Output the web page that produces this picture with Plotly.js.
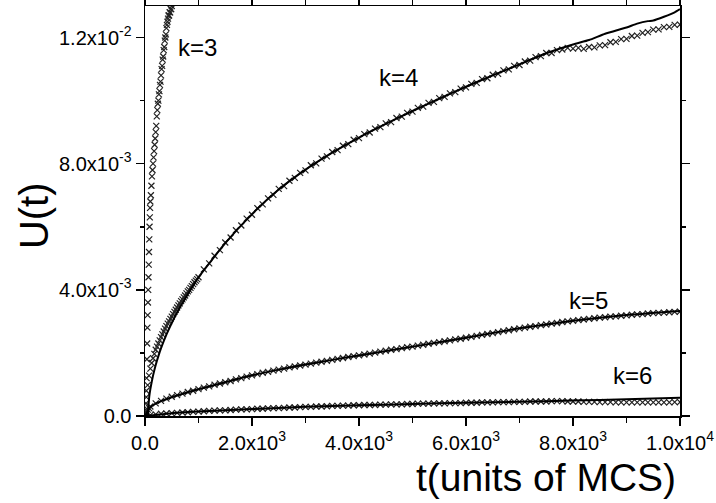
<!DOCTYPE html>
<html>
<head>
<meta charset="utf-8">
<script src="https://cdn.plot.ly/plotly-3.0.1.min.js"></script>
<style>html,body{margin:0;padding:0;background:#fff;}#chart{width:716px;height:503px;}</style>
</head>
<body>
<div id="chart"></div>
<script>
// ---- data (t in MCS, U(t)) ----
const tK3 = [0,5,10,15,20,25,30,35,40,45,50,55,60,65,70,75,80,85,90,95,100,110,120,130,140,150,160,170,180,190,200,210,220,230,240,250,260,270,280,290,300,310,320,330,340,350,360,370,380,390,400,410,420,430,440,450,460,470,480,490,500,510];
const uK3 = [0,0.00003,0.0001,0.0002,0.0004,0.0008,0.0012,0.0018,0.0023,0.0028,0.0032,0.0036,0.0040,0.0044,0.0048,0.0052,0.0056,0.0060,0.0063,0.0066,0.0068,0.0070,0.0073,0.0076,0.0078,0.0080,0.0082,0.0084,0.0086,0.0088,0.0090,0.0092,0.0095,0.0097,0.0099,0.0100,0.0102,0.0103,0.0105,0.0106,0.0108,0.0110,0.0111,0.0113,0.0114,0.0116,0.0117,0.0119,0.0120,0.0121,0.0123,0.0124,0.0125,0.0126,0.0127,0.0127,0.0128,0.0128,0.0129,0.0129,0.0130,0.0131];

const tK4 = [0,25,50,75,100,125,150,175,200,225,250,275,300,325,350,375,400,425,450,475,500,525,550,575,600,625,650,675,700,725,750,775,800,825,850,875,900,925,950,975,
 1000,1100,1200,1300,1400,1500,1600,1700,1800,1900,2000,2100,2200,2300,2400,2500,2600,2700,2800,2900,3000,3100,3200,3300,3400,3500,3600,3700,3800,3900,4000,4100,4200,4300,4400,4500,4600,4700,4800,4900,5000,5100,5200,5300,5400,5500,5600,5700,5800,5900,6000,6100,6200,6300,6400,6500,6600,6700,6800,6900,7000,7100,7200,7300,7400,7500,7600,7700,7800,7900,8000,8100,8200,8300,8400,8500,8600,8700,8800,8900,9000,9100,9200,9300,9400,9500,9600,9700,9800,9900,10000];
const uK4 = [0,0.0006,0.00098,0.00128,0.0015,0.00168,0.00183,0.00197,0.0021,0.0022,0.0023,0.0024,0.0025,0.00259,0.00268,0.00277,0.00285,0.00293,0.003,0.00308,0.00315,0.00323,0.0033,0.00337,0.00344,0.00351,0.00357,0.00364,0.0037,0.00376,0.00382,0.00389,0.00395,0.004,0.00406,0.00412,0.00418,0.00424,0.00429,0.00434,
 0.0044,0.00465,0.00484,0.00508,0.00526,0.0055,0.00566,0.00589,0.00604,0.00626,0.00638,0.00659,0.00671,0.0069,0.00701,0.0072,0.00729,0.00746,0.00755,0.00771,0.00779,0.00795,0.00801,0.00816,0.00823,0.00837,0.00843,0.00857,0.00862,0.00876,0.00881,0.00894,0.00899,0.00911,0.00916,0.00928,0.00932,0.00945,0.00949,0.00961,0.00965,0.00977,0.00981,0.00993,0.00996,0.01008,0.01012,0.01023,0.01027,0.01038,0.01042,0.01053,0.01056,0.01068,0.01071,0.01082,0.01085,0.01096,0.01099,0.0111,0.01113,0.01124,0.01127,0.01138,0.01141,0.01151,0.01151,0.0116,0.01162,0.01167,0.01165,0.01167,0.01164,0.0117,0.01169,0.01175,0.01176,0.01185,0.01186,0.01195,0.01196,0.01205,0.01206,0.01215,0.01217,0.01225,0.01226,0.01233,0.01234,0.0124,0.01241];

const tK4fit = [55,65,80,100,125,150,200,250,300,400,500,600,700,800,900,1000,1500,2000,2500,3000,3500,4000,4500,5000,5500,6000,6500,7000,7500,8000,8300,8600,9000,9200,9400,9500,9700,9900,10000];
const uK4fit = [0,0.0003,0.00062,0.00085,0.00108,0.00128,0.00162,0.0019,0.00215,0.00258,0.00295,0.00328,0.00358,0.00386,0.00413,0.0044,0.00548,0.0064,0.00718,0.00781,0.00835,0.00883,0.00926,0.00967,0.01006,0.01044,0.0108,0.01115,0.0115,0.01178,0.01192,0.01212,0.01232,0.01244,0.01252,0.01254,0.01266,0.0128,0.0129];

const tGrid = [0,100,200,300,400,500,600,700,800,900,1000,1100,1200,1300,1400,1500,1600,1700,1800,1900,2000,2100,2200,2300,2400,2500,2600,2700,2800,2900,3000,3100,3200,3300,3400,3500,3600,3700,3800,3900,4000,4100,4200,4300,4400,4500,4600,4700,4800,4900,5000,5100,5200,5300,5400,5500,5600,5700,5800,5900,6000,6100,6200,6300,6400,6500,6600,6700,6800,6900,7000,7100,7200,7300,7400,7500,7600,7700,7800,7900,8000,8100,8200,8300,8400,8500,8600,8700,8800,8900,9000,9100,9200,9300,9400,9500,9600,9700,9800,9900,10000];

const tK5early = [25,50,75];
const uK5early = [0.00012,0.0002,0.00025];
const uK5 = [0,0.0003,0.0004,0.00048,0.00055,0.00061,0.00066,0.00071,0.00076,0.0008,0.00085,0.0009,0.00094,0.00099,0.00103,0.00107,0.00111,0.00116,0.0012,0.00125,0.00129,0.00133,0.00137,0.0014,0.00144,0.00147,0.0015,0.00154,0.00157,0.0016,0.00163,0.00166,0.00169,0.00172,0.00175,0.00178,0.00181,0.00184,0.00187,0.0019,0.00192,0.00195,0.00198,0.00201,0.00204,0.00207,0.0021,0.00212,0.00215,0.00218,0.0022,0.00223,0.00226,0.00229,0.00232,0.00234,0.00237,0.0024,0.00243,0.00245,0.00248,0.00251,0.00254,0.00257,0.0026,0.00263,0.00266,0.00269,0.00272,0.00275,0.00278,0.0028,0.00283,0.00285,0.00288,0.0029,0.00293,0.00295,0.00298,0.003,0.00302,0.00304,0.00306,0.00308,0.0031,0.00312,0.00313,0.00315,0.00316,0.00318,0.00319,0.00321,0.00322,0.00323,0.00325,0.00326,0.00327,0.00328,0.00329,0.0033,0.00331];

const tK5fit = [0,100,300,600,1000,1500,2000,2500,3000,3500,4000,5000,6000,7000,8000,9000,10000];
const uK5fit = [0,0.00028,0.00047,0.00065,0.00085,0.00107,0.00129,0.00147,0.00163,0.00178,0.00192,0.0022,0.00248,0.00278,0.00302,0.0032,0.00333];

const uK6 = [0,0.00003,0.00005,0.00007,0.00008,0.00009,0.0001,0.00011,0.00012,0.00013,0.00014,0.00015,0.00016,0.00017,0.00018,0.00018,0.00019,0.0002,0.00021,0.00021,0.00022,0.00023,0.00023,0.00024,0.00025,0.00025,0.00026,0.00027,0.00027,0.00028,0.00029,0.00029,0.0003,0.0003,0.00031,0.00032,0.00032,0.00033,0.00033,0.00034,0.00034,0.00035,0.00035,0.00035,0.00036,0.00036,0.00037,0.00037,0.00037,0.00038,0.00038,0.00039,0.00039,0.00039,0.0004,0.0004,0.0004,0.00041,0.00041,0.00041,0.00042,0.00042,0.00042,0.00043,0.00043,0.00043,0.00044,0.00044,0.00044,0.00045,0.00045,0.00045,0.00046,0.00046,0.00046,0.00046,0.00047,0.00047,0.00047,0.00046,0.00046,0.00046,0.00045,0.00045,0.00045,0.00044,0.00044,0.00044,0.00043,0.00043,0.00043,0.00043,0.00043,0.00043,0.00043,0.00043,0.00043,0.00043,0.00043,0.00044,0.00044];

const tK6fit = [0,500,1000,2000,3000,4000,5000,6000,7000,8000,9000,10000];
const uK6fit = [0,0.00009,0.00014,0.00022,0.00029,0.00034,0.00038,0.00042,0.00045,0.00049,0.00053,0.00058];

const xTickVals = [0,2000,4000,6000,8000,10000];
const xTickText = ['0.0','2.0x10<sup>3</sup>','4.0x10<sup>3</sup>','6.0x10<sup>3</sup>','8.0x10<sup>3</sup>','1.0x10<sup>4</sup>'];
const xMinor = [1000,3000,5000,7000,9000];
const yTickVals = [0,0.004,0.008,0.012];
const yTickText = ['0.0','4.0x10<sup>-3</sup>','8.0x10<sup>-3</sup>','1.2x10<sup>-2</sup>'];
const yMinor = [0.002,0.006,0.010];

const labels = ['k=3','k=4','k=5','k=6'];
const labelT = [981,4729,8290,9121];
const labelU = [0.01168,0.01072,0.00366,0.00127];

// ---- build ----
const FONT = 'Liberation Sans, Arial, Helvetica, sans-serif';
const mk = {symbol:'x-thin', size:6, color:'#222', line:{width:1.2, color:'#222'}};
function markers(x, y){ return {x:x, y:y, type:'scatter', mode:'markers', marker:mk, hoverinfo:'skip', showlegend:false}; }
function fit(x, y){ return {x:x, y:y, type:'scatter', mode:'lines', line:{color:'#000', width:2, shape:'spline', smoothing:0.5}, hoverinfo:'skip', showlegend:false}; }

const data = [
  markers(tK3, uK3),
  markers(tK4, uK4),
  markers([0].concat(tK5early, tGrid.slice(1)), [uK5[0]].concat(uK5early, uK5.slice(1))),
  markers(tGrid, uK6),
  fit(tK4fit, uK4fit),
  fit(tK5fit, uK5fit),
  fit(tK6fit, uK6fit)
];

const axisCommon = {
  showgrid:false, zeroline:false, showline:true, linecolor:'#000', linewidth:1.5,
  ticks:'outside', ticklen:8, tickwidth:1.5, tickcolor:'#000', mirror:'allticks',
  tickfont:{family:FONT, size:20, color:'#000'}, tickmode:'array'
};

const layout = {
  width:716, height:503,
  margin:{l:145, r:36, t:6, b:87},
  paper_bgcolor:'#fff', plot_bgcolor:'#fff',
  xaxis: Object.assign({}, axisCommon, {
    range:[0,10000], tickvals:xTickVals, ticktext:xTickText,
    minor:{tickmode:'array', tickvals:xMinor, ticks:'outside', ticklen:5, tickwidth:1.5, tickcolor:'#000'}
  }),
  yaxis: Object.assign({}, axisCommon, {
    range:[0,0.013], tickvals:yTickVals, ticktext:yTickText,
    minor:{tickmode:'array', tickvals:yMinor, ticks:'outside', ticklen:4, tickwidth:1.5, tickcolor:'#000'}
  }),
  annotations: labels.map((s,i)=>({
    text:s, x:labelT[i], y:labelU[i], xref:'x', yref:'y', showarrow:false,
    xanchor:'center', yanchor:'middle', font:{family:FONT, size:24, color:'#000'}
  })).concat([
    {text:'t(units of MCS)', xref:'paper', yref:'paper', x:0.749, y:-0.151, showarrow:false,
     xanchor:'center', yanchor:'middle', font:{family:FONT, size:39, color:'#000'}},
    {text:'U(t)', xref:'paper', yref:'paper', x:-0.2075, y:0.49, showarrow:false, textangle:-90,
     xanchor:'center', yanchor:'middle', font:{family:FONT, size:40, color:'#000'}}
  ])
};

Plotly.newPlot('chart', data, layout, {staticPlot:true, displayModeBar:false});
</script>
</body>
</html>
